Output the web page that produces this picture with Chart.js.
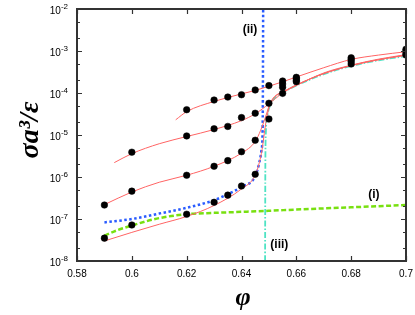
<!DOCTYPE html>
<html>
<head>
<meta charset="utf-8">
<script src="https://cdn.jsdelivr.net/npm/chart.js@4/dist/chart.umd.min.js"></script>
<style>
  html, body { margin: 0; padding: 0; background: #fff; }
  #wrap { width: 415px; height: 315px; }
</style>
</head>
<body>
<div id="wrap"><canvas id="myChart" width="415" height="315"></canvas></div>
<script>
// Puntos medidos (cuatro series)
var phiA = [0.62, 0.63, 0.635, 0.64, 0.645, 0.65, 0.655, 0.66, 0.68, 0.70];
var sigA = [4.0e-5, 6.8e-5, 8.0e-5, 9.1e-5, 1.18e-4, 1.5e-4, 1.93e-4, 2.36e-4, 6.9e-4, 1.1e-3];
var phiB = [0.60, 0.62, 0.63, 0.635, 0.64, 0.645, 0.65, 0.655, 0.66, 0.68, 0.70];
var sigB = [3.9e-6, 9.5e-6, 1.41e-5, 1.6e-5, 2.6e-5, 3.3e-5, 5.7e-5, 1.64e-4, 2.2e-4, 6.3e-4, 1.0e-3];
var phiC = [0.59, 0.60, 0.62, 0.63, 0.635, 0.64, 0.645, 0.65, 0.655, 0.66, 0.68, 0.70];
var sigC = [2.15e-7, 4.6e-7, 1.1e-6, 1.8e-6, 2.45e-6, 4.0e-6, 7.5e-6, 2.4e-5, 1.37e-4, 2.0e-4, 5.6e-4, 8.6e-4];
var phiD = [0.59, 0.60, 0.62, 0.63, 0.635, 0.64, 0.645, 0.655, 0.66, 0.68, 0.70];
var sigD = [3.5e-8, 7.2e-8, 1.3e-7, 2.5e-7, 3.7e-7, 6.1e-7, 1.16e-6, 9.8e-5, 1.86e-4, 4.9e-4, 8.0e-4];

// Curvas de ajuste (rojas)
var fitAx = [0.616, 0.62, 0.63, 0.64, 0.645, 0.65, 0.655, 0.66, 0.67, 0.68, 0.69, 0.70];
var fitAy = [2.3e-5, 3.6e-5, 6.3e-5, 9.5e-5, 1.15e-4, 1.45e-4, 1.85e-4, 2.4e-4, 4.0e-4, 6.3e-4, 8.0e-4, 9.6e-4];
var fitBx = [0.5936, 0.60, 0.61, 0.62, 0.63, 0.64, 0.645, 0.65, 0.655, 0.66, 0.67, 0.68, 0.69, 0.70];
var fitBy = [2.2e-6, 3.6e-6, 6.2e-6, 9.2e-6, 1.35e-5, 2.2e-5, 3.2e-5, 5.5e-5, 1.0e-4, 1.5e-4, 3.0e-4, 4.6e-4, 6.4e-4, 8.2e-4];
var fitCx = [0.59, 0.60, 0.61, 0.62, 0.63, 0.64, 0.645, 0.647, 0.649, 0.6504, 0.652, 0.6553, 0.66, 0.67, 0.68, 0.69, 0.70];
var fitCy = [2.2e-7, 4.4e-7, 7.5e-7, 1.1e-6, 1.8e-6, 3.7e-6, 7.0e-6, 1.3e-5, 3.0e-5, 5.7e-5, 8.0e-5, 1.07e-4, 1.55e-4, 2.9e-4, 4.5e-4, 6.2e-4, 8.0e-4];
var fitDx = [0.59, 0.60, 0.61, 0.62, 0.63, 0.64, 0.645, 0.6465, 0.6475, 0.648, 0.6486, 0.6498, 0.6516, 0.655, 0.66, 0.67, 0.68, 0.69, 0.70];
var fitDy = [3.0e-8, 4.8e-8, 7.5e-8, 1.15e-7, 2.1e-7, 5.2e-7, 1.1e-6, 2.2e-6, 4.5e-6, 7.6e-6, 1.5e-5, 3.9e-5, 7.5e-5, 1.05e-4, 1.55e-4, 2.9e-4, 4.5e-4, 6.2e-4, 7.9e-4];

// (i) verde discontinua, (ii) azul punteada, (iii) cian punto-raya
var lineIx = [0.59, 0.595, 0.60, 0.61, 0.62, 0.63, 0.64, 0.65, 0.66, 0.68, 0.70];
var lineIy = [4.0e-8, 5.5e-8, 7.0e-8, 1.05e-7, 1.3e-7, 1.4e-7, 1.48e-7, 1.57e-7, 1.68e-7, 1.9e-7, 2.15e-7];
var lineIIx = [0.59, 0.60, 0.61, 0.62, 0.63, 0.635, 0.64, 0.645, 0.6465, 0.6473, 0.6477, 0.6478, 0.6479];
var lineIIy = [8.3e-8, 1.0e-7, 1.35e-7, 1.85e-7, 2.8e-7, 3.9e-7, 5.8e-7, 1.05e-6, 2.2e-6, 4.4e-6, 1.3e-5, 1.0e-4, 1.0e-2];
var lineIIIx = [0.6486, 0.6487, 0.6489, 0.6495, 0.6505, 0.652, 0.655, 0.66, 0.67, 0.68, 0.69, 0.70];
var lineIIIy = [1.0e-8, 2.0e-6, 1.2e-5, 3.0e-5, 5.2e-5, 7.5e-5, 1.02e-4, 1.5e-4, 2.8e-4, 4.4e-4, 6.0e-4, 7.6e-4];

// Ejes
var xTicks = [0.58, 0.60, 0.62, 0.64, 0.66, 0.68, 0.70];
var xTickLabels = ['0.58', '0.6', '0.62', '0.64', '0.66', '0.68', '0.7'];
var yExponents = [-8, -7, -6, -5, -4, -3, -2];
var yMinorMult = [2, 5];

// Etiquetas de las curvas (en unidades de datos)
var notes = [
  { text: '(ii)', x: 0.6431, y: 3.3e-3 },
  { text: '(i)', x: 0.6883, y: 3.7e-7 },
  { text: '(iii)', x: 0.6538, y: 2.5e-8 }
];

function pairs(xs, ys) {
  return xs.map(function (x, i) { return { x: x, y: ys[i] }; });
}

function pointSet(xs, ys) {
  return {
    data: pairs(xs, ys), showLine: false,
    pointRadius: 3.3, pointBackgroundColor: '#000', pointBorderColor: '#000', pointBorderWidth: 0.5
  };
}

function fitSet(xs, ys) {
  return {
    data: pairs(xs, ys), borderColor: '#ff6464', borderWidth: 1,
    pointRadius: 0, cubicInterpolationMode: 'monotone'
  };
}

var framePlugin = {
  id: 'frame',
  afterDraw: function (chart) {
    var ctx = chart.ctx, a = chart.chartArea;
    var xs = chart.scales.x, ys = chart.scales.y;
    ctx.save();
    ctx.strokeStyle = '#333';
    ctx.lineWidth = 2;
    ctx.strokeRect(a.left, a.top, a.right - a.left, a.bottom - a.top);

    ctx.lineWidth = 1.2;
    ctx.beginPath();
    xTicks.forEach(function (v) {
      var px = Math.round(xs.getPixelForValue(v)) + 0.5;
      ctx.moveTo(px, a.bottom); ctx.lineTo(px, a.bottom - 5);
      ctx.moveTo(px, a.top); ctx.lineTo(px, a.top + 5);
    });
    yExponents.forEach(function (e) {
      var py = Math.round(ys.getPixelForValue(Math.pow(10, e))) + 0.5;
      ctx.moveTo(a.left - 1, py); ctx.lineTo(a.left + 5, py);
      ctx.moveTo(a.right + 1, py); ctx.lineTo(a.right - 5, py);
      if (e < -2) {
        yMinorMult.forEach(function (m) {
          var pm = Math.round(ys.getPixelForValue(m * Math.pow(10, e))) + 0.5;
          ctx.moveTo(a.left, pm); ctx.lineTo(a.left + 3, pm);
          ctx.moveTo(a.right, pm); ctx.lineTo(a.right - 3, pm);
        });
      }
    });
    ctx.stroke();

    // etiquetas de los ejes
    ctx.fillStyle = '#000';
    ctx.font = '10px "Liberation Sans", Arial, sans-serif';
    ctx.textAlign = 'center';
    ctx.textBaseline = 'middle';
    xTicks.forEach(function (v, i) {
      ctx.fillText(xTickLabels[i], xs.getPixelForValue(v), a.bottom + 13);
    });
    yExponents.forEach(function (e) {
      var py = ys.getPixelForValue(Math.pow(10, e));
      ctx.font = '8px "Liberation Sans", Arial, sans-serif';
      var sup = String(e);
      var ws = ctx.measureText(sup).width;
      ctx.textAlign = 'right';
      ctx.fillText(sup, 68, py - 2);
      ctx.font = '10px "Liberation Sans", Arial, sans-serif';
      ctx.fillText('10', 68 - ws, py + 2);
    });

    // notas
    ctx.font = 'bold 12px "Liberation Sans", Arial, sans-serif';
    ctx.textAlign = 'center';
    notes.forEach(function (n) {
      ctx.fillText(n.text, xs.getPixelForValue(n.x), ys.getPixelForValue(n.y));
    });

    // titulos
    ctx.font = 'italic bold 26px "Liberation Serif", "DejaVu Serif", serif';
    ctx.fillText('φ', 243, 298);
    ctx.translate(31, 130);
    ctx.rotate(-Math.PI / 2);
    ctx.font = 'italic bold 28px "Liberation Serif", "DejaVu Serif", serif';
    ctx.fillText('σa³/ε', 0, 0);
    ctx.restore();
  }
};

var ctx = document.getElementById('myChart').getContext('2d');
var myChart = new Chart(ctx, {
  type: 'line',
  data: {
    datasets: [
      pointSet(phiA, sigA),
      pointSet(phiB, sigB),
      pointSet(phiC, sigC),
      pointSet(phiD, sigD),
      fitSet(fitAx, fitAy),
      fitSet(fitBx, fitBy),
      fitSet(fitCx, fitCy),
      fitSet(fitDx, fitDy),
      { data: pairs(lineIIx, lineIIy), borderColor: '#2a5cff', borderWidth: 2.5, borderDash: [2.5, 2.5],
        pointRadius: 0, cubicInterpolationMode: 'monotone' },
      { data: pairs(lineIIIx, lineIIIy), borderColor: '#4fe3c4', borderWidth: 1.8, borderDash: [6, 2, 1.5, 2],
        pointRadius: 0, cubicInterpolationMode: 'monotone' },
      { data: pairs(lineIx, lineIy), borderColor: '#78e010', borderWidth: 2.5, borderDash: [5, 2.5],
        pointRadius: 0, cubicInterpolationMode: 'monotone' }
    ]
  },
  options: {
    responsive: false,
    animation: false,
    layout: { padding: { left: 77, top: 9, right: 9, bottom: 54 } },
    plugins: { legend: { display: false }, tooltip: { enabled: false } },
    scales: {
      x: { type: 'linear', min: 0.58, max: 0.70, display: false },
      y: { type: 'logarithmic', min: 1e-8, max: 1e-2, display: false }
    }
  },
  plugins: [framePlugin]
});
</script>
</body>
</html>
